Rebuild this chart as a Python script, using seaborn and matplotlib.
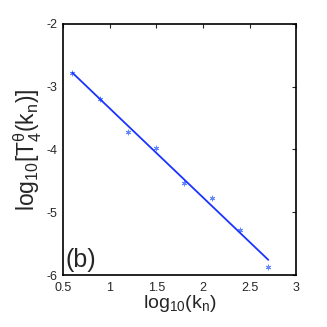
import numpy as np
import pandas as pd
import matplotlib
matplotlib.use("Agg")
import matplotlib.pyplot as plt
import seaborn as sns

# data
log_k = [0.6, 0.9, 1.2, 1.5, 1.8, 2.1, 2.4, 2.7]
log_T = [-2.79, -3.19, -3.72, -3.98, -4.54, -4.78, -5.28, -5.87]
x_ticks = [0.5, 1, 1.5, 2, 2.5, 3]
x_tick_labels = ["0.5", "1", "1.5", "2", "2.5", "3"]
y_ticks = [-6, -5, -4, -3, -2]
y_tick_labels = ["-6", "-5", "-4", "-3", "-2"]

sns.set_style("white")
plt.rcParams["font.family"] = ["Liberation Sans", "DejaVu Sans"]
plt.rcParams["mathtext.fontset"] = "custom"
plt.rcParams["mathtext.rm"] = "Liberation Sans"
plt.rcParams["mathtext.it"] = "Liberation Sans"

df = pd.DataFrame({"x": log_k, "y": log_T})
slope, icpt = np.polyfit(df["x"], df["y"], 1)
fit = pd.DataFrame({"x": [log_k[0], log_k[-1]]})
fit["y"] = slope * fit["x"] + icpt

fig = plt.figure(figsize=(3.27, 3.27), dpi=100)
ax = fig.add_axes([0.193, 0.159, 0.713, 0.768])

sns.lineplot(data=fit, x="x", y="y", ax=ax, color="#1a33ff", lw=1.3)
sns.scatterplot(data=df, x="x", y="y", ax=ax, marker=(6, 2, 0), s=12,
                color="#6688ff", linewidth=0.7)

ax.set_xlim(0.5, 3)
ax.set_ylim(-6, -2)
ax.set_xticks(x_ticks)
ax.set_xticklabels(x_tick_labels)
ax.set_yticks(y_ticks)
ax.set_yticklabels(y_tick_labels)
ax.tick_params(direction="in", length=3, width=0.8, labelsize=9,
               top=True, right=True)
ax.tick_params(axis="x", pad=5)
ax.tick_params(axis="y", pad=4)
for s in ax.spines.values():
    s.set_linewidth(1.2)
    s.set_color("black")

ax.set_xlabel(r"log$_{10}$(k$_n$)", fontsize=14, labelpad=-1)
ax.set_ylabel(r"log$_{10}$[T$_4^{\theta}$(k$_n$)]", fontsize=16.5, labelpad=2)
ax.text(0.01, 0.03, "(b)", transform=ax.transAxes, fontsize=18)

fig.savefig("out.png", dpi=100)
